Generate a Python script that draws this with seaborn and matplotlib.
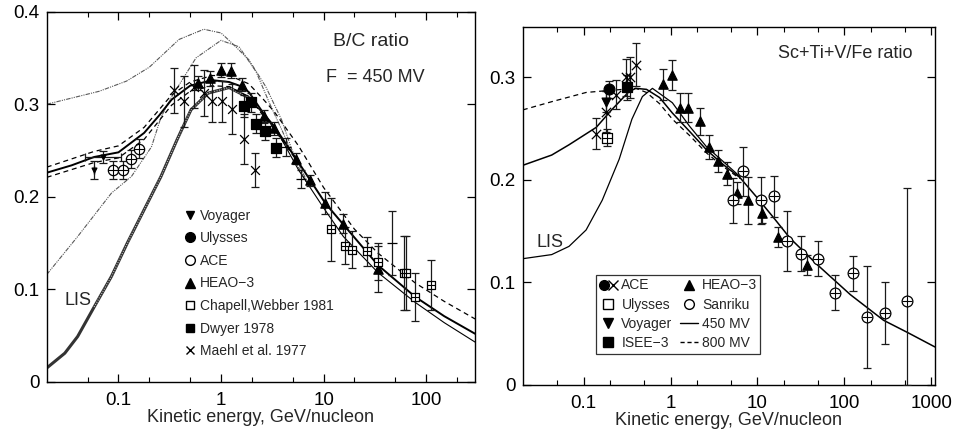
import matplotlib
matplotlib.use("Agg")
from matplotlib import pyplot as plt
from matplotlib.lines import Line2D
from matplotlib.legend_handler import HandlerTuple
from matplotlib.ticker import FixedLocator, FuncFormatter, NullFormatter
import numpy as np
import pandas as pd
import seaborn as sns

# ---------------- B/C ratio (left panel) ----------------
# model curves
bc_mod_x = [0.02, 0.035, 0.058, 0.1, 0.178, 0.25, 0.33, 0.5, 0.82, 1.2, 1.6, 1.87, 2.6, 3.3, 5.4, 7.4, 10.4, 15.6, 34, 78, 150, 300]
bc_mod_y = [0.226, 0.234, 0.243, 0.248, 0.269, 0.288, 0.305, 0.320, 0.326, 0.324, 0.319, 0.313, 0.290, 0.276, 0.241, 0.218, 0.193, 0.170, 0.126, 0.092, 0.071, 0.052]
bc_hi_x = [0.02, 0.058, 0.1, 0.178, 0.33, 0.5, 0.82, 1.2, 1.87, 2.6, 3.3, 5.7, 10, 20, 34, 78, 150, 300]
bc_hi_y = [0.232, 0.249, 0.255, 0.275, 0.310, 0.324, 0.331, 0.331, 0.322, 0.305, 0.292, 0.255, 0.210, 0.165, 0.139, 0.107, 0.087, 0.068]
bc_lo_x = [0.02, 0.058, 0.1, 0.178, 0.33, 0.5, 0.82, 1.2, 1.87, 2.6, 3.3, 5.4]
bc_lo_y = [0.221, 0.237, 0.242, 0.262, 0.299, 0.314, 0.320, 0.319, 0.308, 0.287, 0.273, 0.240]
bc_lis_x = [0.02, 0.03, 0.04, 0.058, 0.0855, 0.122, 0.178, 0.26, 0.374, 0.51, 0.75, 1.2, 1.87, 2.7, 3.9, 5.7, 10, 15.6, 34, 78, 150, 300]
bc_lis_y = [0.015, 0.031, 0.049, 0.081, 0.114, 0.150, 0.186, 0.222, 0.262, 0.294, 0.312, 0.318, 0.307, 0.287, 0.262, 0.229, 0.188, 0.157, 0.118, 0.086, 0.064, 0.043]
bc_dd1_x = [0.02, 0.065, 0.12, 0.2, 0.39, 0.68, 1.0, 1.28, 1.87, 2.73, 3.9, 4.9, 7]
bc_dd1_y = [0.300, 0.314, 0.325, 0.340, 0.370, 0.381, 0.377, 0.366, 0.348, 0.319, 0.283, 0.251, 0.215]
bc_dd2_x = [0.02, 0.04, 0.0855, 0.134, 0.21, 0.26, 0.33, 0.57, 1.0, 1.5, 2.2, 3.0, 4.0, 5.5, 7]
bc_dd2_y = [0.116, 0.157, 0.204, 0.222, 0.254, 0.286, 0.308, 0.350, 0.369, 0.362, 0.335, 0.300, 0.270, 0.235, 0.213]

# measurements
voy_x = [0.058, 0.07]
voy_y = [0.229, 0.243]
voy_e = [0.010, 0.006]
ace_x = [0.088, 0.112, 0.134, 0.16]
ace_y = [0.229, 0.229, 0.241, 0.252]
ace_e = [0.010, 0.010, 0.010, 0.010]
heao_x = [0.6, 0.78, 1.0, 1.25, 1.6, 2.6, 3.3, 5.4, 7.4, 10.4, 15.6, 34]
heao_y = [0.323, 0.328, 0.337, 0.336, 0.321, 0.287, 0.274, 0.241, 0.218, 0.193, 0.171, 0.122]
heao_e = [0.008, 0.008, 0.008, 0.008, 0.007, 0.007, 0.007, 0.006, 0.006, 0.012, 0.010, 0.025]
cw_x = [11.9, 16.3, 19.1, 26.7, 34, 61, 64, 78, 112]
cw_y = [0.165, 0.147, 0.143, 0.141, 0.130, 0.118, 0.118, 0.092, 0.105]
cw_e = [0.034, 0.020, 0.020, 0.016, 0.020, 0.040, 0.040, 0.026, 0.027]
dw_x = [1.67, 1.96, 2.19, 2.67, 3.42]
dw_y = [0.298, 0.302, 0.279, 0.271, 0.253]
dw_e = [0.012, 0.010, 0.010, 0.010, 0.010]
ma_x = [0.35, 0.44, 0.55, 0.68, 0.82, 1.02, 1.28, 1.69, 2.14]
ma_y = [0.315, 0.303, 0.319, 0.312, 0.303, 0.303, 0.295, 0.262, 0.229]
ma_e = [0.024, 0.028, 0.023, 0.025, 0.022, 0.022, 0.027, 0.027, 0.018]
oth_x = [4.3, 6.0, 46]
oth_y = [0.254, 0.219, 0.150]
oth_e = [0.010, 0.010, 0.035]

# ---------------- Sc+Ti+V/Fe ratio (right panel) ----------------
m450_x = [0.02, 0.043, 0.068, 0.14, 0.21, 0.335, 0.40, 0.53, 0.75, 1.05, 1.66, 2.6, 4.0, 6.3, 9.8, 15, 23.7, 49, 117, 282, 535, 1100]
m450_y = [0.214, 0.224, 0.234, 0.251, 0.268, 0.286, 0.289, 0.288, 0.280, 0.265, 0.247, 0.229, 0.215, 0.202, 0.183, 0.164, 0.143, 0.117, 0.088, 0.063, 0.051, 0.037]
m800_x = [0.02, 0.043, 0.107, 0.2, 0.40, 0.53, 0.75, 1.05, 1.66, 2.6, 4.0, 6.3]
m800_y = [0.268, 0.276, 0.285, 0.287, 0.289, 0.285, 0.274, 0.259, 0.243, 0.226, 0.213, 0.201]
fe_lis_x = [0.02, 0.043, 0.068, 0.107, 0.164, 0.257, 0.36, 0.475, 0.62, 1.05, 1.66, 2.6, 4.0, 6.3]
fe_lis_y = [0.123, 0.127, 0.135, 0.151, 0.180, 0.220, 0.259, 0.281, 0.289, 0.275, 0.252, 0.232, 0.218, 0.203]

fe_acec_x = [0.197]
fe_acec_y = [0.288]
fe_acec_e = [0.008]
fe_acex_x = [0.14, 0.18, 0.237, 0.31, 0.34, 0.40]
fe_acex_y = [0.245, 0.266, 0.283, 0.300, 0.300, 0.312]
fe_acex_e = [0.015, 0.020, 0.014, 0.018, 0.020, 0.021]
fe_uly_x = [0.187]
fe_uly_y = [0.241]
fe_uly_e = [0.008]
fe_voy_x = [0.18]
fe_voy_y = [0.276]
fe_voy_e = [0.010]
fe_isee_x = [0.32]
fe_isee_y = [0.290]
fe_isee_e = [0.012]
fe_heao_x = [0.81, 1.03, 1.27, 1.6, 2.16, 2.75, 3.5, 4.45, 5.8, 7.8, 11.4, 17.3, 37]
fe_heao_y = [0.293, 0.302, 0.270, 0.270, 0.257, 0.232, 0.218, 0.206, 0.187, 0.180, 0.168, 0.144, 0.117]
fe_heao_e = [0.015, 0.015, 0.014, 0.014, 0.013, 0.012, 0.011, 0.011, 0.011, 0.023, 0.010, 0.010, 0.010]
fe_san_x = [5.3, 6.8, 11, 15.5, 22, 32, 50, 79, 127, 180, 290, 525]
fe_san_y = [0.180, 0.208, 0.180, 0.184, 0.140, 0.128, 0.123, 0.090, 0.109, 0.066, 0.070, 0.082]
fe_san_lo = [0.022, 0.024, 0.023, 0.020, 0.029, 0.017, 0.017, 0.017, 0.017, 0.050, 0.030, 0.082]
fe_san_hi = [0.022, 0.024, 0.023, 0.020, 0.029, 0.017, 0.017, 0.017, 0.017, 0.050, 0.030, 0.110]

sns.set_style("ticks")
plt.rcParams['font.family'] = ['Liberation Sans', 'DejaVu Sans']
plt.rcParams['axes.linewidth'] = 1.0

fig = plt.figure(figsize=(9.54, 4.32), dpi=100)
axL = fig.add_axes([0.049, 0.116, 0.449, 0.857])
axR = fig.add_axes([0.548, 0.109, 0.432, 0.829])


def curve(ax, x, y, **kw):
	sns.lineplot(x=x, y=y, ax=ax, sort=False, estimator=None, color=kw.pop('color', 'black'), **kw)


def points(ax, x, y, err, marker, size, filled=True, plus=False, xerr=None):
	ax.errorbar(x, y, yerr=err, xerr=xerr, fmt='none', ecolor='0.1', elinewidth=0.9,
		capsize=3, capthick=0.9, zorder=3)
	df = pd.DataFrame({'x': x, 'y': y})
	if marker in ('x', '+', '_'):
		sns.scatterplot(data=df, x='x', y='y', marker=marker, s=size, color='black',
			linewidth=0.9, ax=ax, zorder=4, legend=False)
	else:
		sns.scatterplot(data=df, x='x', y='y', marker=marker, s=size,
			color='black' if filled else 'white', edgecolor='black', linewidth=0.9,
			ax=ax, zorder=4, legend=False)
	if plus:
		sns.scatterplot(data=df, x='x', y='y', marker='+', s=size, color='black',
			linewidth=0.8, ax=ax, zorder=5, legend=False)


for ax in (axL, axR):
	ax.set_xscale('log')

# ---- left curves
curve(axL, bc_dd1_x, bc_dd1_y, lw=0.8, color='0.35', linestyle=(0, (4, 1, 1, 1, 1, 1)))
curve(axL, bc_dd2_x, bc_dd2_y, lw=0.8, color='0.35', linestyle=(0, (4, 1, 1, 1, 1, 1)))
curve(axL, bc_lis_x, bc_lis_y, lw=0.8)
# LIS drawn as a dark hatched band where the model variants overlap
curve(axL, bc_lis_x[:13], bc_lis_y[:13], lw=2.2, color='0.2')
curve(axL, bc_lis_x[3:13], bc_lis_y[3:13], lw=0.9, color='0.85', linestyle=(0, (0.6, 1.4)))
curve(axL, bc_mod_x, bc_mod_y, lw=1.4)
curve(axL, bc_hi_x, bc_hi_y, lw=0.9, linestyle=(0, (4, 3)))
curve(axL, bc_lo_x, bc_lo_y, lw=0.9, linestyle=(0, (4, 3)))

points(axL, voy_x, voy_y, voy_e, 'v', 12, xerr=[[0.0, 0.023], [0.0, 0.035]])
points(axL, ace_x, ace_y, ace_e, 'o', 55, filled=False, plus=True)
points(axL, heao_x, heao_y, heao_e, '^', 45)
points(axL, cw_x, cw_y, cw_e, 's', 40, filled=False, plus=True)
points(axL, dw_x, dw_y, dw_e, 's', 55)
points(axL, ma_x, ma_y, ma_e, 'x', 40)
points(axL, oth_x, oth_y, oth_e, '_', 50)

axL.set_xlim(0.02, 300)
axL.set_ylim(0, 0.4)
axL.yaxis.set_major_locator(FixedLocator([0, 0.1, 0.2, 0.3, 0.4]))
axL.xaxis.set_major_locator(FixedLocator([0.1, 1, 10, 100]))
axL.xaxis.set_minor_locator(FixedLocator([0.05, 0.2, 0.5, 2, 5, 20, 50, 200]))

axL.text(0.757, 0.919, "B/C ratio", transform=axL.transAxes, ha='center', va='center', fontsize=14)
axL.text(0.766, 0.822, "F  = 450 MV", transform=axL.transAxes, ha='center', va='center', fontsize=13)
axL.text(0.072, 0.219, "LIS", transform=axL.transAxes, ha='center', va='center', fontsize=13)

hL = [
	Line2D([], [], ls='none', marker='v', color='black', markersize=6),
	Line2D([], [], ls='none', marker='o', color='black', markersize=7),
	Line2D([], [], ls='none', marker='o', mfc='white', mec='black', markersize=7),
	Line2D([], [], ls='none', marker='^', color='black', markersize=7),
	Line2D([], [], ls='none', marker='s', mfc='white', mec='black', markersize=6),
	Line2D([], [], ls='none', marker='s', color='black', markersize=6),
	Line2D([], [], ls='none', marker='x', color='black', markersize=6),
]
lL = ["Voyager", "Ulysses", "ACE", "HEAO\u22123", "Chapell,Webber 1981", "Dwyer 1978", "Maehl et al. 1977"]
axL.legend(hL, lL, loc='upper left', bbox_to_anchor=(0.322, 0.468), frameon=False, fontsize=10,
	handlelength=0.8, handletextpad=0.3, labelspacing=0.62, borderaxespad=0, borderpad=0)

# ---- right curves
curve(axR, fe_lis_x, fe_lis_y, lw=0.9)
curve(axR, m800_x, m800_y, lw=0.9, linestyle=(0, (4, 3)))
curve(axR, m450_x, m450_y, lw=1.1)

points(axR, fe_acex_x, fe_acex_y, fe_acex_e, 'x', 45)
points(axR, fe_acec_x, fe_acec_y, fe_acec_e, 'o', 60)
points(axR, fe_uly_x, fe_uly_y, fe_uly_e, 's', 45, filled=False, plus=True)
points(axR, fe_voy_x, fe_voy_y, fe_voy_e, 'v', 40)
points(axR, fe_isee_x, fe_isee_y, fe_isee_e, 's', 60)
points(axR, fe_heao_x, fe_heao_y, fe_heao_e, '^', 45)
points(axR, fe_san_x, fe_san_y, [fe_san_lo, fe_san_hi], 'o', 60, filled=False, plus=True)

axR.set_xlim(0.02, 1100)
axR.set_ylim(0, 0.349)
axR.yaxis.set_major_locator(FixedLocator([0, 0.1, 0.2, 0.3]))
axR.xaxis.set_major_locator(FixedLocator([0.1, 1, 10, 100, 1000]))
axR.xaxis.set_minor_locator(FixedLocator([0.05, 0.2, 0.5, 2, 5, 20, 50, 200, 500]))

axR.text(0.782, 0.925, "Sc+Ti+V/Fe ratio", transform=axR.transAxes, ha='center', va='center', fontsize=13)
axR.text(0.066, 0.397, "LIS", transform=axR.transAxes, ha='center', va='center', fontsize=13)

hR = [
	(Line2D([], [], ls='none', marker='o', color='black', markersize=7),
	 Line2D([], [], ls='none', marker='x', color='black', markersize=7)),
	Line2D([], [], ls='none', marker='s', mfc='white', mec='black', markersize=7),
	Line2D([], [], ls='none', marker='v', color='black', markersize=7),
	Line2D([], [], ls='none', marker='s', color='black', markersize=7),
	Line2D([], [], ls='none', marker='^', color='black', markersize=7),
	Line2D([], [], ls='none', marker='o', mfc='white', mec='black', markersize=7),
	Line2D([], [], color='black', lw=1),
	Line2D([], [], color='black', lw=1, ls=(0, (3, 2))),
]
lR = ["ACE", "Ulysses", "Voyager", "ISEE\u22123", "HEAO\u22123", "Sanriku", "450 MV", "800 MV"]
legR = axR.legend(hR, lR, loc='upper left', bbox_to_anchor=(0.177, 0.307), ncol=2, fontsize=10,
	handlelength=1.3, handletextpad=0.3, labelspacing=0.38, columnspacing=0.5, borderpad=0.25,
	borderaxespad=0, fancybox=False, handler_map={tuple: HandlerTuple(ndivide=None, pad=0)})
legR.get_frame().set_edgecolor('black')
legR.get_frame().set_linewidth(0.9)

fmt = FuncFormatter(lambda v, _: f"{v:g}")
for ax in (axL, axR):
	ax.xaxis.set_major_formatter(fmt)
	ax.xaxis.set_minor_formatter(NullFormatter())
	ax.yaxis.set_major_formatter(fmt)
	ax.tick_params(which='both', direction='in', top=True, right=True, colors='black', labelsize=13.5)
	ax.tick_params(axis='x', which='major', length=6, width=0.9, pad=7.5)
	ax.tick_params(axis='x', which='minor', length=3.5, width=0.8)
	ax.tick_params(axis='y', which='major', length=6, width=0.9, pad=5)
	ax.set_xlabel("Kinetic energy, GeV/nucleon", fontsize=13, labelpad=0)
	ax.set_ylabel("")
	for s in ax.spines.values():
		s.set_color('black')

plt.savefig("out.png", dpi=100)
plt.close()
